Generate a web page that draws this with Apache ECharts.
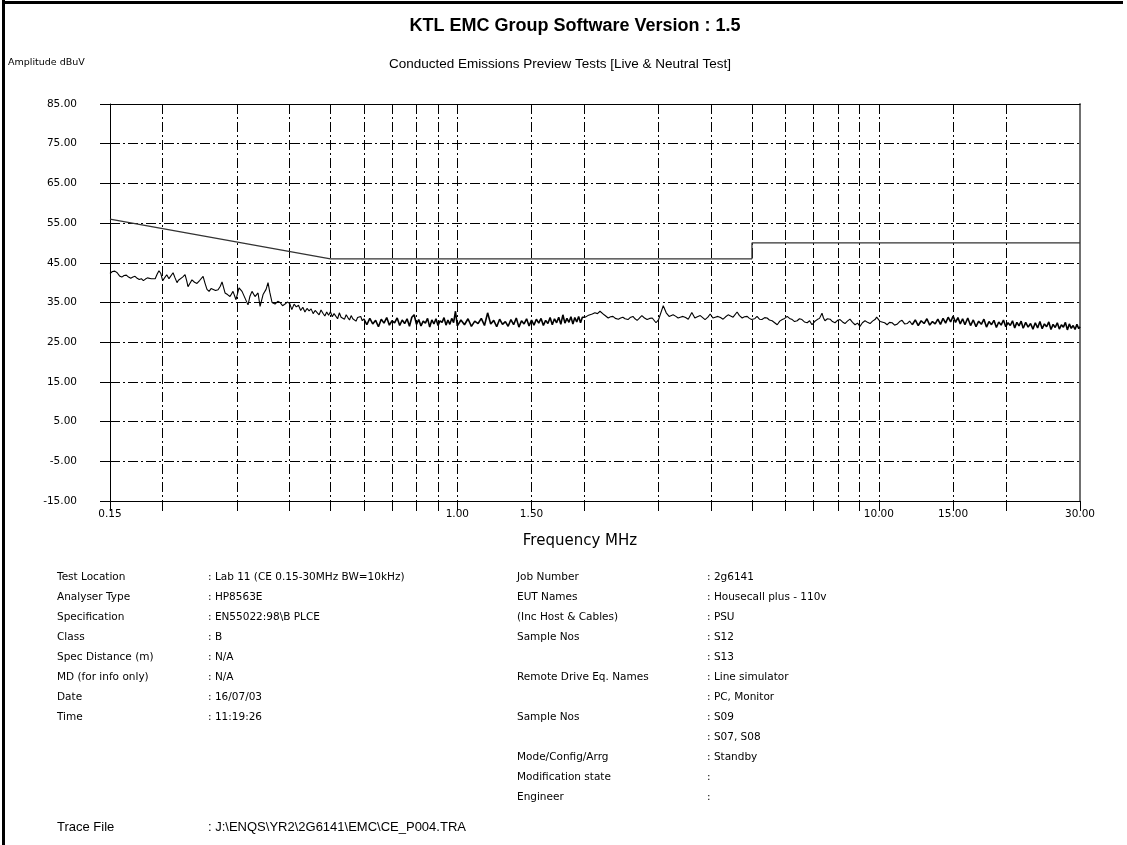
<!DOCTYPE html>
<html>
<head>
<meta charset="utf-8">
<style>html,body{margin:0;padding:0;background:#fff;}#chart{width:1127px;height:845px;}</style>
<script src="https://cdn.jsdelivr.net/npm/echarts@6/dist/echarts.min.js"></script>
</head>
<body>
<div id="chart"></div>
<script>
// ---------- axis ticks / labels ----------
const xTickValues = [0.15,0.2,0.3,0.4,0.5,0.6,0.7,0.8,0.9,1,1.5,2,3,4,5,6,7,8,9,10,15,20,30];
const xLabelValues = [0.15,1,1.5,10,15,30];
const yTickValues = [-15,-5,5,15,25,35,45,55,65,75,85];

// ---------- limit line (MHz, dBuV) ----------
const limitFreq = [0.15,0.5,5,5,30];
const limitLevel = [56,46,46,50,50];

// ---------- measured trace (MHz, dBuV) ----------
const traceFreqA = [0.150,0.152,0.154,0.156,0.158,0.160,0.162,0.164,0.166,0.168,0.170,0.172,0.174,0.176,0.178,0.180,0.182,0.184,0.186,0.188,0.190,0.192,0.194,0.196,0.198];
const traceLevelA = [42.3,42.8,42.9,42.5,41.7,41.4,41.8,41.9,41.4,41.1,41.4,41.6,41.1,40.8,41.0,40.5,40.9,41.2,40.8,41.0,41.4,41.0,42.1,43.0,42.3];

const traceFreqB = [0.200,0.2045,0.207,0.209,0.2117,0.214,0.2163,0.218,0.2199,0.223,0.226,0.228,0.2297,0.232,0.2347,0.238,0.2412,0.245,0.2494,0.252,0.2548,0.2577,0.2605,0.2633,0.267,0.2707,0.274,0.2766,0.2812,0.285,0.2889,0.2937,0.2985,0.3035,0.3085,0.3136,0.3188,0.322,0.3258,0.3312,0.3367,0.3405,0.3461,0.3518,0.3556,0.359,0.3635,0.3695,0.375,0.3797,0.385,0.3903,0.395];
const traceLevelB = [40.5,42.0,41.0,40.6,42.5,41.2,40.0,40.6,40.9,41.4,42.0,40.5,39.0,39.8,40.7,40.1,39.8,40.6,41.6,39.9,38.3,37.8,38.5,38.7,38.0,38.2,39.1,40.2,37.4,37.0,36.5,37.8,35.7,38.7,37.8,36.1,34.4,36.5,37.8,36.5,37.4,34.0,37.0,38.3,40.0,37.6,35.0,34.6,35.3,35.0,34.2,34.6,35.1];

const traceFreqC = [0.400,0.405,0.410,0.415,0.420,0.425,0.430,0.435,0.440,0.445,0.450,0.455,0.460,0.465,0.470,0.475,0.480,0.485,0.490,0.495,0.500,0.505,0.510,0.515,0.520,0.525,0.530,0.535,0.540,0.545,0.550,0.555,0.560,0.565,0.570,0.575,0.580,0.585,0.590,0.595];
const traceLevelC = [34.8,33.2,34.6,33.9,34.3,33.0,33.8,32.6,33.5,32.9,33.4,32.2,33.0,32.5,31.9,33.1,32.3,31.6,32.6,31.8,32.7,31.4,32.2,31.9,30.9,32.4,31.3,31.8,30.8,31.9,31.2,30.6,31.7,30.9,31.4,30.3,31.2,30.7,31.5,30.4];

const traceFreqD1 = [0.60,0.61,0.62,0.63,0.64,0.65,0.66,0.67,0.68,0.69,0.70,0.71,0.72,0.73,0.74,0.75,0.76,0.77,0.78,0.79,0.80,0.81,0.82,0.83,0.84,0.85,0.86,0.87,0.88,0.89,0.90,0.91,0.92,0.93,0.94,0.95,0.96,0.97,0.98,0.99];
const traceLevelD1 = [30.9,29.4,31.0,29.6,30.5,28.9,30.8,29.8,31.2,29.3,30.4,29.9,31.1,29.2,30.6,29.7,30.9,29.0,31.3,31.9,29.5,30.7,29.1,30.3,29.8,31.0,28.8,30.6,29.6,30.9,29.2,30.4,30.0,31.2,29.3,30.6,29.5,31.0,29.9,32.8];

const traceFreqD2 = [1.00,1.02,1.04,1.06,1.08,1.10,1.12,1.14,1.16,1.18,1.20,1.22,1.24,1.26,1.28,1.30,1.32,1.34,1.36,1.38,1.40,1.42,1.44,1.46,1.48,1.50,1.52,1.54,1.56,1.58,1.60,1.62,1.64,1.66,1.68,1.70,1.72,1.74,1.76,1.78,1.80,1.82,1.84,1.86,1.88,1.90,1.92,1.94,1.96,1.98];
const traceLevelD2 = [29.1,30.6,29.4,30.9,29.0,30.3,29.7,31.0,29.2,32.4,29.6,30.5,28.9,30.8,29.5,30.2,29.0,30.7,29.4,31.1,28.8,30.4,29.6,30.9,29.1,30.6,29.3,30.8,29.8,31.0,29.2,30.5,29.7,31.2,29.4,30.9,29.9,31.3,29.5,31.9,29.8,31.0,30.0,31.4,29.6,31.2,30.1,31.5,29.9,31.3];

const traceFreqE = [2.01,2.04,2.06,2.09,2.12,2.15,2.18,2.20,2.23,2.25,2.28,2.31,2.34,2.37,2.41,2.44,2.47,2.50,2.54,2.57,2.61,2.64,2.67,2.70,2.74,2.78,2.82,2.86,2.90,2.93,2.96,3.00,3.03,3.08,3.13,3.18,3.21,3.25,3.30,3.34,3.38,3.43,3.48,3.53,3.60,3.66,3.71,3.77,3.82,3.87,3.93,3.98,4.04,4.09,4.15,4.21,4.27,4.33,4.39,4.45,4.51,4.61,4.67,4.74,4.80,4.87,4.93,4.99];
const traceLevelE = [31.3,31.7,31.9,32.1,32.4,32.2,32.8,32.3,31.9,31.5,31.1,31.4,31.5,31.0,30.8,31.1,31.3,30.9,30.7,31.2,31.5,30.9,30.5,31.0,31.7,31.1,30.7,31.0,31.1,30.6,29.9,30.6,31.1,34.2,32.4,31.5,31.7,31.9,31.5,31.1,31.3,31.5,31.2,30.8,32.5,31.1,31.4,31.7,31.2,30.7,31.3,32.1,31.1,31.3,31.5,31.2,30.8,31.4,31.9,31.6,31.3,32.6,31.7,31.1,31.4,31.5,31.0,30.7];

const traceFreqF = [5.07,5.14,5.21,5.28,5.36,5.43,5.50,5.58,5.66,5.74,5.82,5.90,5.98,6.06,6.14,6.23,6.31,6.40,6.48,6.57,6.66,6.76,6.85,6.94,7.04,7.14,7.23,7.33,7.39,7.45,7.55,7.66,7.76,7.87,7.98,8.09,8.20,8.31,8.42,8.54,8.66,8.78,8.90,9.02,9.14,9.27,9.40,9.53,9.66,9.79,9.88,9.96,10.07,10.18,10.32,10.46,10.60,10.75,10.90,11.04,11.20,11.35,11.51,11.67,11.83];
const traceLevelF = [30.9,31.5,30.8,30.7,31.2,31.1,30.6,30.4,29.9,29.4,30.3,30.7,31.0,31.5,31.0,30.7,30.2,30.4,30.9,30.7,30.1,29.9,30.4,29.4,30.2,30.7,31.0,32.3,31.1,30.4,30.9,30.8,30.2,29.9,30.5,30.7,30.1,29.7,30.3,30.8,30.0,29.4,29.8,29.0,29.9,30.4,30.0,29.7,30.3,30.7,31.3,31.1,30.2,29.7,29.9,29.4,30.0,29.9,29.3,29.5,30.2,30.5,29.6,29.7,30.3];

const traceFreqG1 = [12.0,12.2,12.4,12.6,12.8,13.0,13.2,13.4,13.6,13.8,14.0,14.2,14.4,14.6,14.8,15.0,15.2,15.4,15.6,15.8];
const traceLevelG1 = [29.4,30.6,29.2,30.4,29.7,30.9,29.3,30.2,29.6,30.8,29.5,31.0,29.8,31.3,30.1,31.6,30.0,31.2,29.6,30.9];

const traceFreqG2 = [16.0,16.25,16.5,16.75,17.0,17.25,17.5,17.75,18.0,18.25,18.5,18.75,19.0,19.25,19.5,19.75,20.0,20.25,20.5,20.75,21.0,21.25,21.5,21.75];
const traceLevelG2 = [29.4,31.1,29.2,30.6,28.9,30.3,29.5,30.8,28.8,30.2,29.4,30.5,28.7,30.1,29.3,30.6,28.9,29.9,29.2,30.4,28.6,30.0,29.1,30.3];

const traceFreqG3 = [22.0,22.3,22.6,22.9,23.2,23.5,23.8,24.1,24.4,24.7,25.0,25.3,25.6,25.9,26.2,26.5,26.8,27.1,27.4,27.7,28.0,28.3,28.6,28.9,29.2,29.5,29.8,30.0];
const traceLevelG3 = [28.5,30.0,28.8,29.7,28.3,29.9,28.6,30.2,28.4,29.6,28.9,30.1,28.2,29.5,28.7,29.9,28.3,29.4,28.8,30.0,28.1,29.6,28.5,29.2,28.2,29.5,28.4,28.9];

// ---------- text blocks ----------
const titleText = 'KTL EMC Group Software Version : 1.5';
const subtitleText = 'Conducted Emissions Preview Tests [Live & Neutral Test]';
const yAxisTitle = 'Amplitude dBuV';
const xAxisTitle = 'Frequency MHz';
const infoLeftLabels = ['Test Location','Analyser Type','Specification','Class','Spec Distance (m)','MD (for info only)','Date','Time'];
const infoLeftValues = [': Lab 11 (CE 0.15-30MHz BW=10kHz)',': HP8563E',': EN55022:98\\B PLCE',': B',': N/A',': N/A',': 16/07/03',': 11:19:26'];
const infoRightLabels = ['Job Number','EUT Names','(Inc Host & Cables)','Sample Nos','','Remote Drive Eq. Names','','Sample Nos','','Mode/Config/Arrg','Modification state','Engineer'];
const infoRightValues = [': 2g6141',': Housecall plus - 110v',': PSU',': S12',': S13',': Line simulator',': PC, Monitor',': S09',': S07, S08',': Standby',':',':'];
const traceFileLabel = 'Trace File';
const traceFileValue = ': J:\\ENQS\\YR2\\2G6141\\EMC\\CE_P004.TRA';

// ---------- build ----------
function zip(f, l) { return f.map((v, i) => [v, l[i]]); }
// trace segments: [freqs, levels, dense?]
const segments = [
  [traceFreqA, traceLevelA, false], [traceFreqB, traceLevelB, false], [traceFreqC, traceLevelC, false],
  [traceFreqD1, traceLevelD1, true], [traceFreqD2, traceLevelD2, true], [traceFreqE, traceLevelE, false],
  [traceFreqF, traceLevelF, false], [traceFreqG1, traceLevelG1, true], [traceFreqG2, traceLevelG2, true],
  [traceFreqG3, traceLevelG3, true]
];
const traceSeries = segments.map((seg, i) => {
  const data = zip(seg[0], seg[1]);
  const next = segments[i + 1];
  if (next) data.push([next[0][0], next[1][0]]); // join to the next segment
  return {
    name: 'Trace', type: 'line', xAxisIndex: 0, yAxisIndex: 0, data: data,
    symbol: 'none', lineStyle: { color: '#000', width: seg[2] ? 1.6 : 1.1 }, z: 4
  };
});
const limitData = zip(limitFreq, limitLevel);

const dashDot = [10, 3, 2, 3];
const FONT = 'DejaVu Sans';

function txt(x, y, s, size, family, align, weight) {
  return {
    type: 'text', x: x, y: y, silent: true,
    style: { text: s, fill: '#000', fontSize: size, fontFamily: family, fontWeight: weight || 'normal',
             align: align || 'left', verticalAlign: 'middle' }
  };
}

const graphics = [
  { type: 'rect', silent: true, shape: { x: 2, y: 0, width: 3, height: 845 }, style: { fill: '#000' } },
  { type: 'rect', silent: true, shape: { x: 2, y: 1, width: 1121, height: 3 }, style: { fill: '#000' } },
  txt(575, 26, titleText, 18, 'Liberation Sans', 'center', 'bold'),
  txt(560, 64, subtitleText, 13.5, 'Liberation Sans', 'center'),
  txt(8, 63, yAxisTitle, 9.5, FONT, 'left'),
  txt(580, 541, xAxisTitle, 15, FONT, 'center')
];
infoLeftLabels.forEach((s, i) => { graphics.push(txt(57, 577 + 20 * i, s, 10.5, FONT)); });
infoLeftValues.forEach((s, i) => { graphics.push(txt(208, 577 + 20 * i, s, 10.5, FONT)); });
infoRightLabels.forEach((s, i) => { if (s) graphics.push(txt(517, 577 + 20 * i, s, 10.5, FONT)); });
infoRightValues.forEach((s, i) => { graphics.push(txt(707, 577 + 20 * i, s, 10.5, FONT)); });
graphics.push(txt(57, 827, traceFileLabel, 13, 'Liberation Sans'));
graphics.push(txt(208, 827, traceFileValue, 13, 'Liberation Sans'));

const chart = echarts.init(document.getElementById('chart'), null, { renderer: 'canvas' });
chart.setOption({
  animation: false,
  backgroundColor: '#fff',
  textStyle: { fontFamily: FONT },
  grid: { left: 110, right: 47, top: 104, bottom: 344, containLabel: false, outerBoundsMode: 'none' },
  xAxis: [{
    type: 'log', logBase: 10, min: 0.15, max: 30, position: 'bottom',
    axisLine: { show: true, onZero: false, lineStyle: { color: '#000', width: 1 } },
    axisTick: { show: true, inside: false, length: 10, customValues: xTickValues, lineStyle: { color: '#000', width: 1 } },
    axisLabel: { show: true, customValues: xLabelValues, formatter: v => Number(v).toFixed(2), color: '#000',
                 fontSize: 10.5, fontFamily: FONT, margin: 8, hideOverlap: false },
    splitLine: { show: true, lineStyle: { color: '#000', width: 1, type: dashDot } },
    minorTick: { show: false }, minorSplitLine: { show: false }
  }, {
    type: 'log', logBase: 10, min: 0.15, max: 30, position: 'top',
    axisLine: { show: true, onZero: false, lineStyle: { color: '#000', width: 1 } },
    axisTick: { show: false }, axisLabel: { show: false }, splitLine: { show: false }
  }],
  yAxis: [{
    type: 'value', min: -15, max: 85, position: 'left',
    axisLine: { show: true, onZero: false, lineStyle: { color: '#000', width: 1 } },
    axisTick: { show: true, inside: false, length: 10, customValues: yTickValues, lineStyle: { color: '#000', width: 1 } },
    axisLabel: { show: true, customValues: yTickValues, formatter: v => Number(v).toFixed(2), color: '#000',
                 fontSize: 10.5, fontFamily: FONT, margin: 33, hideOverlap: false },
    splitLine: { show: true, lineStyle: { color: '#000', width: 1, type: dashDot } }
  }, {
    type: 'value', min: -15, max: 85, position: 'right',
    axisLine: { show: true, onZero: false, lineStyle: { color: '#707070', width: 2 } },
    axisTick: { show: false }, axisLabel: { show: false }, splitLine: { show: false }
  }],
  series: [{
    name: 'Limit', type: 'line', xAxisIndex: 0, yAxisIndex: 0, data: limitData,
    symbol: 'none', lineStyle: { color: '#333', width: 1.3 }, z: 3
  }].concat(traceSeries),
  graphic: graphics
});
</script>
</body>
</html>
